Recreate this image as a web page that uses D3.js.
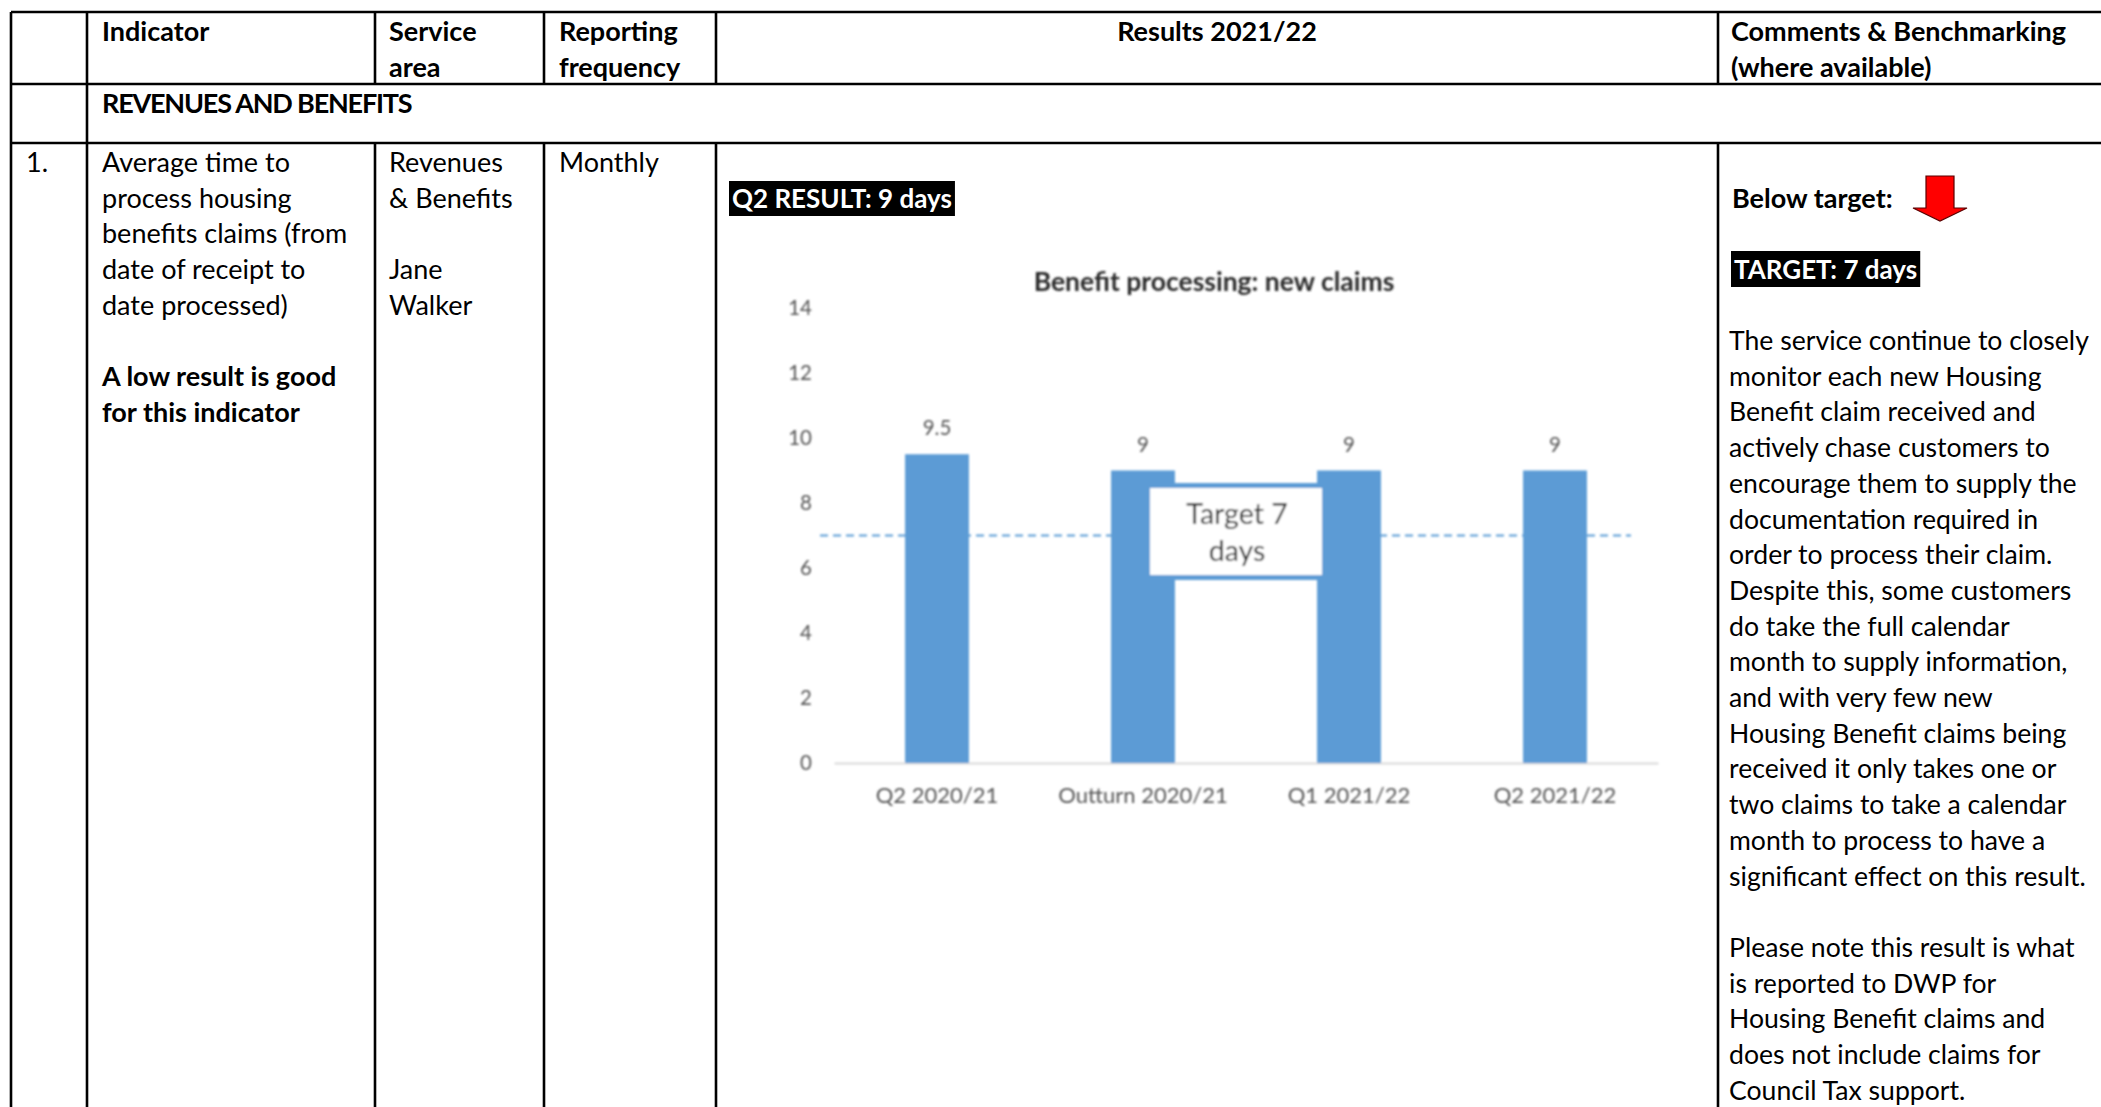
<!DOCTYPE html>
<html>
<head>
<meta charset="utf-8">
<script src="https://cdn.jsdelivr.net/npm/d3@7"></script>
<style>
  html, body { margin: 0; padding: 0; background: #fff; }
  svg { display: block; }
  text { font-family: Lato, "Noto Sans", sans-serif; }
</style>
</head>
<body>
<svg id="page" width="2101" height="1107"></svg>
<script>
// ---- chart data ----
const categories = ["Q2 2020/21", "Outturn 2020/21", "Q1 2021/22", "Q2 2021/22"];
const values = [9.5, 9, 9, 9];
const valueLabels = ["9.5", "9", "9", "9"];
const yTicks = [0, 2, 4, 6, 8, 10, 12, 14];
const yMax = 14;
const targetValue = 7;
const targetLabel = ["Target 7", "days"];
const chartTitle = "Benefit processing: new claims";

// ---- table text ----
const headers = ["Indicator", ["Service", "area"], ["Reporting", "frequency"], "Results 2021/22", ["Comments & Benchmarking", "(where available)"]];
const sectionTitle = "REVENUES AND BENEFITS";
const rowNumber = "1.";
const indicatorLines = ["Average time to", "process housing", "benefits claims (from", "date of receipt to", "date processed)"];
const indicatorNote = ["A low result is good", "for this indicator"];
const serviceLines = ["Revenues", "& Benefits", "", "Jane", "Walker"];
const frequency = "Monthly";
const resultBadge = "Q2 RESULT: 9 days";
const statusText = "Below target:";
const targetBadge = "TARGET: 7 days";
const commentLines = [
  "The service continue to closely",
  "monitor each new Housing",
  "Benefit claim received and",
  "actively chase customers to",
  "encourage them to supply the",
  "documentation required in",
  "order to process their claim.",
  "Despite this, some customers",
  "do take the full calendar",
  "month to supply information,",
  "and with very few new",
  "Housing Benefit claims being",
  "received it only takes one or",
  "two claims to take a calendar",
  "month to process to have a",
  "significant effect on this result.",
  "",
  "Please note this result is what",
  "is reported to DWP for",
  "Housing Benefit claims and",
  "does not include claims for",
  "Council Tax support."
];

const svg = d3.select("#page");
const W = 2101, H = 1107;
svg.append("rect").attr("width", W).attr("height", H).attr("fill", "#fff");

// ---- table grid ----
const colX = [11, 87, 375, 544, 716, 1718];
const rowTop = 12, headBottom = 84, sectionBottom = 143;
const LH = 35.7;
const bodySize = 27;
const commentSize = 26.6;

const grid = svg.append("g").attr("stroke", "#000").attr("stroke-width", 2.6);
[rowTop, headBottom, sectionBottom].forEach(y =>
  grid.append("line").attr("x1", colX[0]).attr("x2", W).attr("y1", y).attr("y2", y));
// left border and first divider run full height
[colX[0], colX[1]].forEach(x =>
  grid.append("line").attr("x1", x).attr("x2", x).attr("y1", rowTop).attr("y2", H));
// other dividers: header row and body row only
colX.slice(2).forEach(x => {
  grid.append("line").attr("x1", x).attr("x2", x).attr("y1", rowTop).attr("y2", headBottom);
  grid.append("line").attr("x1", x).attr("x2", x).attr("y1", sectionBottom).attr("y2", H);
});

function lines(g, arr, x, y0, opts = {}) {
  const t = g.append("text")
    .attr("font-size", opts.size || bodySize)
    .attr("font-weight", opts.bold ? 700 : 400)
    .attr("fill", opts.fill || "#000")
    .attr("text-anchor", opts.anchor || "start");
  if (opts.spacing) t.attr("letter-spacing", opts.spacing);
  arr.forEach((s, i) => {
    t.append("tspan").attr("x", x).attr("y", y0 + i * LH).text(s);
  });
  return t;
}

const tbl = svg.append("g");
// headers
lines(tbl, [headers[0]], 102, 41, {bold: true});
lines(tbl, headers[1], 389, 41, {bold: true});
lines(tbl, headers[2], 559, 41, {bold: true});
lines(tbl, [headers[3]], (colX[4] + colX[5]) / 2, 41, {bold: true, anchor: "middle"});
lines(tbl, headers[4], 1731, 41, {bold: true});
lines(tbl, [sectionTitle], 102, 113, {bold: true, spacing: -1.2});

// row 1
lines(tbl, [rowNumber], 26, 172);
lines(tbl, indicatorLines, 102, 172);
lines(tbl, indicatorNote, 102, 172 + 6 * LH, {bold: true});
lines(tbl, serviceLines, 389, 172);
lines(tbl, [frequency], 559, 172);

// black badges
function badge(g, text, x, yTop, h, padX, size) {
  const t = g.append("text").attr("x", x + padX).attr("y", yTop + h - 8)
    .attr("font-size", size).attr("font-weight", 700).attr("fill", "#fff").text(text);
  const w = t.node().getComputedTextLength() + padX * 2;
  g.insert("rect", "text").attr("x", x).attr("y", yTop).attr("width", w).attr("height", h).attr("fill", "#000");
}
badge(tbl, resultBadge, 729, 181, 35, 3, 26);
badge(tbl, targetBadge, 1731, 251, 36, 3, 26);

// comments column
lines(tbl, [statusText], 1732, 208, {bold: true});
lines(tbl, commentLines, 1729, 350, {size: commentSize});

// red down arrow
const ax = 1940, aTop = 176, aShoulder = 208, aTip = 221, shaftHalf = 14, headHalf = 27;
tbl.append("path")
  .attr("d", d3.line()([
    [ax - shaftHalf, aTop], [ax + shaftHalf, aTop], [ax + shaftHalf, aShoulder],
    [ax + headHalf, aShoulder], [ax, aTip], [ax - headHalf, aShoulder],
    [ax - shaftHalf, aShoulder]
  ]) + "Z")
  .attr("fill", "#ff0000").attr("stroke", "#5a0000").attr("stroke-width", 1.2);

// ---- bar chart ----
const defs = svg.append("defs");
defs.append("filter").attr("id", "soft")
  .append("feGaussianBlur").attr("stdDeviation", 0.8);

const chart = svg.append("g").attr("filter", "url(#soft)");
const plotLeft = 834, plotRight = 1658, plotTop = 308, plotBottom = 763;

const x = d3.scaleBand().domain(categories).range([plotLeft, plotRight])
  .paddingInner(0.69).paddingOuter(0.345);
const y = d3.scaleLinear().domain([0, yMax]).range([plotBottom, plotTop]);

chart.append("text").attr("x", 1214).attr("y", 291).attr("text-anchor", "middle")
  .attr("font-size", 26.5).attr("font-weight", 700).attr("fill", "#2b2b2b").text(chartTitle);

// y axis labels (no line, no ticks)
const yAxis = d3.axisLeft(y).tickValues(yTicks).tickSize(0).tickPadding(0);
const yg = chart.append("g").attr("transform", `translate(${plotLeft - 22},0)`).call(yAxis);
yg.select(".domain").remove();
yg.selectAll("text").attr("font-size", 20.5).attr("fill", "#555")
  .attr("font-family", "Lato, sans-serif");

// category axis
const xAxis = d3.axisBottom(x).tickSize(0).tickPadding(24);
const xg = chart.append("g").attr("transform", `translate(0,${plotBottom})`).call(xAxis);
xg.select(".domain").attr("stroke", "#d9d9d9").attr("stroke-width", 2);
xg.selectAll("text").attr("font-size", 22).attr("fill", "#555")
  .attr("font-family", "Lato, sans-serif");

// target line
chart.append("line")
  .attr("x1", plotLeft - 14).attr("x2", plotRight - 27)
  .attr("y1", y(targetValue)).attr("y2", y(targetValue))
  .attr("stroke", "#5b9bd5").attr("stroke-width", 2).attr("stroke-dasharray", "8,5");

// bars
chart.selectAll("rect.bar").data(values).join("rect").attr("class", "bar")
  .attr("x", (d, i) => x(categories[i]))
  .attr("width", x.bandwidth())
  .attr("y", d => y(d))
  .attr("height", d => y(0) - y(d))
  .attr("fill", "#5b9bd5");

// value labels
chart.selectAll("text.val").data(values).join("text").attr("class", "val")
  .attr("x", (d, i) => x(categories[i]) + x.bandwidth() / 2)
  .attr("y", d => y(d) - 19)
  .attr("text-anchor", "middle").attr("font-size", 20.5).attr("fill", "#555")
  .text((d, i) => valueLabels[i]);

// target callout box
const boxW = 177, boxH = 92;
const boxCx = (x(categories[1]) + x(categories[2]) + x.bandwidth()) / 2 - 10;
const boxCy = y(targetValue) - 4;
chart.append("rect")
  .attr("x", boxCx - boxW / 2).attr("y", boxCy - boxH / 2)
  .attr("width", boxW).attr("height", boxH)
  .attr("fill", "#fff").attr("stroke", "#5b9bd5").attr("stroke-width", 5);
const tl = chart.append("text").attr("text-anchor", "middle").attr("font-size", 28.5).attr("fill", "#262626");
targetLabel.forEach((s, i) => tl.append("tspan").attr("x", boxCx + 1).attr("y", boxCy - 8 + i * 37).text(s));
</script>
</body>
</html>
